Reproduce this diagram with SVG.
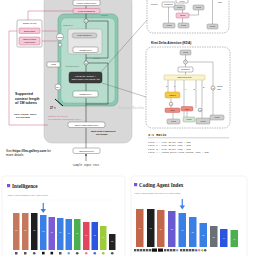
<svg xmlns="http://www.w3.org/2000/svg" width="256" height="256" viewBox="0 0 256 256">
<defs>
<style>
.t{font-family:"Liberation Sans",Arial,sans-serif;fill:#222}
.m{font-family:"Liberation Mono","DejaVu Sans Mono",monospace;fill:#333}
.s{font-family:"Liberation Serif","Times New Roman",serif;fill:#222;font-weight:bold}
.wb{fill:#fff;stroke:#555;stroke-width:0.4}
.pk{fill:#f7c8d8;stroke:#cf4f7a;stroke-width:0.4}
.gb{fill:#cfcfcf;stroke:#808080;stroke-width:0.4}
.ln{stroke:#222;stroke-width:0.5;fill:none}
.pl{stroke:#d05a80;stroke-width:0.5;fill:none}
.dl{stroke:#666;stroke-width:0.4;fill:none}
.dash{fill:#fff;stroke:#777;stroke-width:0.5;stroke-dasharray:1.5 1}
.card{fill:#fff;stroke:#e6e6e6;stroke-width:0.5}
.v{font-family:"Liberation Sans",Arial,sans-serif;fill:#fff;font-size:1.8px;text-anchor:middle}
</style>
<marker id="ah" viewBox="0 0 6 6" refX="5" refY="3" markerWidth="4" markerHeight="4" orient="auto"><path d="M0,0L6,3L0,6z" fill="#222"/></marker>
</defs>

<rect width="256" height="256" fill="#fff"/>

<!-- main gray panel -->
<g id="panel">
<rect x="44" y="-6" width="88" height="149" rx="8" fill="#d8d8d8" stroke="#bdbdbd" stroke-width="0.5"/>
<rect x="58" y="14" width="60" height="92" rx="6" fill="#8fc8b2" stroke="#5b9e86" stroke-width="0.5"/>
<rect x="61" y="18" width="54" height="85" rx="5" fill="#b7ddce" stroke="#6aa892" stroke-width="0.4"/>
<text class="t" x="118" y="109" font-size="3" fill="#c9c9c9" style="fill:#c8c8c8">Sebastian Raschka</text>
</g>

<!-- connectors -->
<g id="connectors">
<line class="ln" x1="86" y1="161" x2="86" y2="154" marker-end="url(#ah)"/>
<line class="ln" x1="86" y1="148" x2="86" y2="128"/>
<line class="ln" x1="86" y1="122" x2="86" y2="98"/>
<line class="ln" x1="86" y1="91" x2="86" y2="83.5"/>
<line class="ln" x1="86" y1="72" x2="86" y2="65"/>
<line class="ln" x1="86" y1="61" x2="86" y2="52.5"/>
<line class="ln" x1="86" y1="47" x2="86" y2="38"/>
<line class="ln" x1="86" y1="33" x2="86" y2="23"/>
<line class="ln" x1="86" y1="19" x2="86" y2="13.5"/>
<line class="ln" x1="86" y1="9" x2="86" y2="5.5"/>
<polyline class="ln" points="86,104 108,104 108,63 88,63"/>
<polyline class="ln" points="86,58 108,58 108,21 88,21"/>
<line class="dl" x1="101" y1="72" x2="147" y2="20"/>
<line class="dl" x1="102" y1="83" x2="146" y2="97"/>
<polyline class="pl" points="17,31 9,31 9,125 48,125"/>
<polyline class="pl" points="28,20 28,11 73,11"/>
<line class="pl" x1="42" y1="31" x2="57" y2="31"/>
<line class="pl" x1="42" y1="41" x2="57" y2="41"/>
<line stroke="#111" stroke-width="1" x1="55" y1="99" x2="63" y2="106"/>
</g>

<!-- top output nodes -->
<g id="n-linear-out"><rect class="wb" x="73" y="0" width="27" height="5.5" rx="1.5"/><text class="t" x="86.5" y="3.8" font-size="2.4" text-anchor="middle">Linear output layer</text></g>
<g id="n-final-norm"><rect class="pk" x="73" y="8.5" width="27" height="5" rx="1.5"/><text class="t" x="86.5" y="12" font-size="2.4" text-anchor="middle">Final RMSNorm</text></g>
<g id="n-add2"><circle cx="86" cy="21" r="2" fill="#fff" stroke="#222" stroke-width="0.4"/><text class="t" x="86" y="22.2" font-size="3" text-anchor="middle">+</text></g>
<text class="t" x="101" y="16" font-size="1.8" fill="#555" style="fill:#4d6f63">Residual</text>

<!-- MoE block -->
<g id="n-moe-block">
<text class="t" x="63" y="26" font-size="2.2" style="fill:#3f6e5e">MoE layer</text>
<rect x="68" y="29" width="34" height="25" rx="2" fill="#e6e6e6" stroke="#999" stroke-width="0.4"/>
<rect class="gb" x="72" y="33" width="25" height="5" rx="2.5"/><text class="t" x="84.5" y="36.3" font-size="2.2" text-anchor="middle">MoE (SwiGLU)</text>
<rect class="wb" x="73" y="47" width="25" height="5.5" rx="1.5"/><text class="t" x="85.5" y="50.6" font-size="2.2" text-anchor="middle">RMSNorm 2</text>
</g>

<!-- left shared box -->
<g id="n-shared">
<rect class="wb" x="17" y="20" width="25" height="27" rx="1.5"/>
<text class="t" x="29.5" y="24" font-size="2.3" text-anchor="middle">Single layers</text>
<rect class="pk" x="19" y="28" width="21" height="5.5" rx="1.2"/><text class="t" x="29.5" y="31.6" font-size="2.2" text-anchor="middle">Embedding</text>
<rect class="pk" x="19" y="37" width="21" height="8" rx="1.2"/><text class="t" x="29.5" y="40.4" font-size="2.2" text-anchor="middle">Shared input</text><text class="t" x="29.5" y="43.4" font-size="2.2" text-anchor="middle">embedding</text>
</g>

<g id="n-nope"><circle cx="60" cy="37" r="3.5" fill="#fff" stroke="#555" stroke-width="0.4"/><text class="t" x="60" y="37.8" font-size="2" text-anchor="middle">NoPE</text></g>
<g id="n-x1"><circle cx="60" cy="45" r="1.8" fill="#fff" stroke="#555" stroke-width="0.4"/><text class="t" x="60" y="46" font-size="2.5" text-anchor="middle">×</text></g>

<!-- attention block -->
<g id="n-add1"><circle cx="86" cy="63" r="2" fill="#fff" stroke="#222" stroke-width="0.4"/><text class="t" x="86" y="64.2" font-size="3" text-anchor="middle">+</text></g>
<text class="t" x="93" y="59" font-size="1.8" style="fill:#4d6f63">Residual</text>
<text class="t" x="65" y="67" font-size="2.2" style="fill:#3f6e5e">Attention layer</text>
<g id="n-attn"><rect x="69" y="72" width="33" height="11" rx="2" fill="#3b3b3b" stroke="#222" stroke-width="0.4"/><text class="t" x="85.5" y="76.5" font-size="2.2" text-anchor="middle" style="fill:#fff">Kimi Delta Attention +</text><text class="t" x="85.5" y="79.8" font-size="2.2" text-anchor="middle" style="fill:#fff">Gated Multi-Head Latent Attn</text></g>
<g id="n-norm1"><rect class="wb" x="73" y="91" width="25" height="6" rx="1.5"/><text class="t" x="85.5" y="94.8" font-size="2.2" text-anchor="middle">RMSNorm 1</text></g>
<g id="n-moe-label"><rect class="wb" x="47" y="62" width="13" height="5" rx="1"/><text class="t" x="53.5" y="65.4" font-size="2.2" text-anchor="middle">MoE</text></g>
<g id="n-mla"><circle cx="58" cy="87" r="3" fill="#fff" stroke="#555" stroke-width="0.4"/><text class="t" x="58" y="87.8" font-size="2" text-anchor="middle">MLA</text></g>
<text class="t" x="50" y="109" font-size="2.8" font-weight="bold">27 ×</text>

<!-- left texts -->
<text class="t" x="15" y="95" font-size="3.6" font-weight="bold">Supported</text>
<text class="t" x="15" y="99.5" font-size="3.6" font-weight="bold">context length</text>
<text class="t" x="15" y="104" font-size="3.6" font-weight="bold">of 1M tokens</text>
<text class="t" x="14" y="115" font-size="2.2" font-weight="bold">Layer 1 dense, layers</text>
<text class="t" x="16" y="118" font-size="2.2" font-weight="bold">2-27 use MoE</text>
<text class="t" x="48" y="117" font-size="2.2" style="fill:#d05a80">NoPE in MLA layers</text>
<text class="t" x="48" y="120" font-size="2.2" style="fill:#d05a80">(no positional embeddings in MLA)</text>

<g id="n-tokemb"><rect class="wb" x="68" y="122" width="37" height="5.5" rx="2"/><text class="t" x="86.5" y="125.6" font-size="2.3" text-anchor="middle">Token embedding layer</text></g>
<text class="t" x="91" y="131.5" font-size="2.3" font-weight="bold">Multi-head component</text>
<text class="t" x="96" y="134.5" font-size="2.3" font-weight="bold">not shown</text>
<g id="n-tokenized"><rect class="wb" x="73" y="148" width="27" height="5.5" rx="1.5"/><text class="t" x="86.5" y="151.6" font-size="2.3" text-anchor="middle">Tokenized text</text></g>
<text class="m" x="86" y="166" font-size="2.6" text-anchor="middle">Sample input text</text>
<text class="t" x="6" y="151.5" font-size="3.2">See <tspan font-weight="bold">https://llm-gallery.com</tspan> for</text>
<text class="t" x="6" y="156" font-size="3.2">more details</text>

<!-- MLA detail box -->
<g id="n-mla-detail">
<rect class="dash" x="147" y="-6" width="82" height="39" rx="6"/>
<text class="t" x="151" y="5" font-size="1.8">Queries</text>
<rect class="wb" x="162" y="2" width="13" height="5" rx="1.2"/><text class="t" x="168.5" y="5.2" font-size="1.8" text-anchor="middle">RMSNorm</text>
<rect class="wb" x="176" y="-1" width="12" height="4" rx="1.2"/><text class="t" x="182" y="1.8" font-size="1.8" text-anchor="middle">Linear</text>
<rect class="gb" x="174" y="5" width="11" height="5" rx="1.2"/><text class="t" x="179.5" y="8.3" font-size="1.8" text-anchor="middle">Linear</text>
<rect class="gb" x="193" y="5" width="11" height="5" rx="1.2"/><text class="t" x="198.5" y="8.3" font-size="1.8" text-anchor="middle">Linear</text>
<rect class="pk" x="176" y="13" width="13" height="5" rx="1.2"/><text class="t" x="182.5" y="16.3" font-size="1.8" text-anchor="middle">NoPE</text>
<rect class="gb" x="163" y="23" width="12" height="5" rx="1.2"/><text class="t" x="169" y="26.3" font-size="1.8" text-anchor="middle">Linear</text>
<rect class="gb" x="178" y="23" width="11" height="5" rx="1.2"/><text class="t" x="183.5" y="26.3" font-size="1.8" text-anchor="middle">Linear</text>
<rect class="gb" x="207" y="24" width="11" height="5" rx="1.2"/><text class="t" x="212.5" y="27.3" font-size="1.8" text-anchor="middle">Linear</text>
<line class="dl" x1="168.5" y1="7" x2="168.5" y2="23"/>
<line class="dl" x1="182.5" y1="10" x2="182.5" y2="13"/>
<line class="dl" x1="182.5" y1="18" x2="182.5" y2="23"/>
<line class="dl" x1="198.5" y1="10" x2="198.5" y2="15"/>
<line class="dl" x1="198.5" y1="15" x2="189" y2="15"/>
<line class="dl" x1="212.5" y1="0" x2="212.5" y2="24"/>
<text class="t" x="218" y="3" font-size="1.8">Gate</text>
</g>

<!-- KDA detail -->
<text class="t" x="151" y="44" font-size="3.2" font-weight="bold">Kimi Delta Attention (KDA)</text>
<g id="n-kda">
<rect class="dash" x="146" y="47" width="84" height="81" rx="6"/>
<line class="dl" x1="185.5" y1="55" x2="185.5" y2="60"/>
<line class="dl" x1="185.5" y1="64" x2="185.5" y2="67"/>
<line class="dl" x1="185.5" y1="72" x2="185.5" y2="75"/>
<polyline class="dl" points="213,86 213,62 187.5,62"/>
<line class="dl" x1="213" y1="90" x2="213" y2="115"/>
<line class="dl" x1="168" y1="80" x2="168" y2="92"/>
<line class="dl" x1="175" y1="80" x2="175" y2="92"/>
<line class="dl" x1="184" y1="80" x2="184" y2="117"/>
<line class="dl" x1="196" y1="80" x2="196" y2="108"/>
<line class="dl" x1="202" y1="80" x2="202" y2="118"/>
<line class="dl" x1="171" y1="98" x2="171" y2="108"/>
<line class="dl" x1="173" y1="112" x2="173" y2="119"/>
<line class="dl" x1="187" y1="111" x2="187" y2="117"/>
<rect class="gb" x="180" y="50" width="11" height="5" rx="1.2"/><text class="t" x="185.5" y="53.3" font-size="1.8" text-anchor="middle">Linear</text>
<circle cx="185.5" cy="62" r="2" fill="#fff" stroke="#333" stroke-width="0.4"/><text class="t" x="185.5" y="63.1" font-size="3" text-anchor="middle">×</text>
<rect class="wb" x="178" y="67" width="15" height="5" rx="1.2"/><text class="t" x="185.5" y="70.3" font-size="1.8" text-anchor="middle">RMSNorm</text>
<rect x="164" y="75" width="41" height="5" rx="0.8" fill="#fbf4c8" stroke="#c8b35a" stroke-width="0.4"/><text class="t" x="184.5" y="78.3" font-size="1.9" text-anchor="middle">Gated Delta Rule</text>
<circle cx="213" cy="88" r="2" fill="#fff" stroke="#333" stroke-width="0.4"/><text class="t" x="213" y="88.8" font-size="2" text-anchor="middle">σ</text>
<text class="t" x="217" y="87" font-size="1.8">Output</text><text class="t" x="217" y="89.5" font-size="1.8">Gate</text>
<text class="t" x="166" y="87" font-size="2.3">q</text><text class="t" x="174" y="87" font-size="2.3">k</text>
<text class="t" x="185" y="90" font-size="2.3">v</text><text class="t" x="193.5" y="90" font-size="2.3">α</text><text class="t" x="203" y="88" font-size="2.3">β</text>
<rect x="165" y="92" width="15" height="6" rx="1.5" fill="#f6c945" stroke="#c99a1c" stroke-width="0.4"/><text class="t" x="172.5" y="95.8" font-size="1.8" text-anchor="middle">L2Norm</text>
<circle cx="171" cy="104" r="1.8" fill="#fff" stroke="#333" stroke-width="0.4"/><text class="t" x="171" y="104.8" font-size="1.8" text-anchor="middle">ϕ</text>
<rect x="165" y="108" width="15" height="4.5" rx="1.2" fill="#ea8a80" stroke="#c0504d" stroke-width="0.4"/><text class="t" x="172.5" y="111.1" font-size="1.8" text-anchor="middle">Conv</text>
<rect x="181" y="106.5" width="12" height="4.5" rx="1.2" fill="#ea8a80" stroke="#c0504d" stroke-width="0.4"/><text class="t" x="187" y="109.6" font-size="1.8" text-anchor="middle">Conv</text>
<circle cx="200" cy="110" r="1.8" fill="#fff" stroke="#333" stroke-width="0.4"/><text class="t" x="200" y="110.8" font-size="1.8" text-anchor="middle">σ</text>
<rect class="gb" x="167" y="119" width="13" height="5" rx="1.2"/><text class="t" x="173.5" y="122.3" font-size="1.8" text-anchor="middle">Linear</text>
<rect x="183" y="117" width="12" height="5" rx="1.2" fill="#d3e6d3" stroke="#7a9a7a" stroke-width="0.4"/><text class="t" x="189" y="120.3" font-size="1.8" text-anchor="middle">Linear</text>
<rect class="gb" x="196" y="118" width="14" height="6" rx="1.2"/><text class="t" x="203" y="121.8" font-size="1.8" text-anchor="middle">Linear</text>
<rect class="gb" x="210" y="115" width="14" height="5" rx="1.2"/><text class="t" x="217" y="118.3" font-size="1.8" text-anchor="middle">Linear</text>
</g>

<!-- ratio -->
<text class="m" x="148" y="135.5" font-size="3.4" font-weight="bold">3:1 Ratio</text>
<line x1="148" y1="137.8" x2="229" y2="137.8" stroke="#888" stroke-width="0.4"/>
<text class="m" x="148" y="142.5" font-size="2.3">Layer 1  : Kimi Delta Attn + MoE</text>
<text class="m" x="148" y="146" font-size="2.3">Layer 2  : Kimi Delta Attn + MoE</text>
<text class="m" x="148" y="149.5" font-size="2.3">Layer 3  : Kimi Delta Attn + MoE</text>
<text class="m" x="148" y="153" font-size="2.3">Layer 4  : Gated Multi-Head Latent Attn + MoE</text>
<text class="m" x="148" y="156.5" font-size="2.3">...</text>

<!-- Intelligence chart -->
<g id="chart-intelligence">
<rect class="card" x="2" y="176" width="123" height="90" rx="3"/>
<rect x="7" y="184" width="3.2" height="3.2" fill="#7b4fe0"/>
<text class="s" x="12" y="187.5" font-size="5.2">Intelligence</text>
<text class="t" x="7" y="195.5" font-size="1.8" style="fill:#777">Artificial Analysis Intelligence Index; Higher is better</text>
<line x1="12" y1="200" x2="117" y2="200" stroke="#f0f0f0" stroke-width="0.3"/>
<rect x="13" y="213" width="6.5" height="37" fill="#c4785c"/>
<rect x="22" y="213" width="6.5" height="37" fill="#c4785c"/>
<rect x="31" y="213" width="6.5" height="37" fill="#1f1f1f"/>
<rect x="40" y="215" width="6.5" height="35" fill="#3a7fe6"/>
<rect x="48.5" y="217" width="6.5" height="33" fill="#7c5cd6"/>
<rect x="57" y="218" width="6.5" height="32" fill="#3a7fe6"/>
<rect x="65.5" y="219" width="6.5" height="31" fill="#3a7fe6"/>
<rect x="74" y="219" width="6.5" height="31" fill="#4caf50"/>
<rect x="83" y="222" width="6.5" height="28" fill="#e0475e"/>
<rect x="91.5" y="222" width="6.5" height="28" fill="#2b55e0"/>
<rect x="100" y="226" width="6.5" height="24" fill="#9ccc3c"/>
<rect x="109" y="234" width="6.5" height="16" fill="#222"/>
<text class="v" x="16.25" y="231">73</text><text class="v" x="25.25" y="231">73</text><text class="v" x="34.25" y="231">73</text><text class="v" x="43.25" y="232">72</text><text class="v" x="51.75" y="233">70</text><text class="v" x="60.25" y="233">70</text><text class="v" x="68.75" y="234">69</text><text class="v" x="77.25" y="234">69</text><text class="v" x="86.25" y="236">67</text><text class="v" x="94.75" y="236">67</text><text class="v" x="103.25" y="238">64</text><text class="v" x="112.25" y="242">57</text>
<g fill="#555">
<rect x="15" y="252" width="2.5" height="2.5"/><rect x="24" y="252" width="2.5" height="2.5"/><circle cx="34.25" cy="253.2" r="1.3"/><rect x="42" y="251.8" width="2.6" height="2.6" fill="#111"/><rect x="50.5" y="251.8" width="2.6" height="2.6" fill="#111"/><rect x="59" y="252" width="2.5" height="2.5"/><circle cx="68.75" cy="253.2" r="1.3" fill="#8aa0d8"/><circle cx="77.25" cy="253.2" r="1.3"/><circle cx="86.25" cy="253.2" r="1.3" fill="#e08a9a"/><circle cx="94.75" cy="253.2" r="1.3" fill="#4a6ad8"/><circle cx="103.25" cy="253.2" r="1.3" fill="#9ccc3c"/><circle cx="112.25" cy="253.2" r="1.3"/>
</g>
<line x1="43.25" y1="203" x2="43.25" y2="209.5" stroke="#3a7fe6" stroke-width="1.2"/>
<polygon points="40.5,209 46,209 43.25,213" fill="#3a7fe6"/>
</g>

<!-- Coding chart -->
<g id="chart-coding">
<rect class="card" x="131" y="176" width="116" height="90" rx="3"/>
<rect x="134" y="183" width="3.2" height="3.2" fill="#7b4fe0"/>
<text class="s" x="139" y="186.5" font-size="5.2">Coding Agent Index</text>
<text class="t" x="134" y="194" font-size="1.8" style="fill:#777">Artificial Analysis Coding Agent Index v1.0; Higher is better</text>
<rect x="136" y="209" width="7.5" height="38" fill="#c4664a"/>
<rect x="147" y="209" width="7.5" height="38" fill="#1f1f1f"/>
<rect x="157" y="210" width="7.5" height="37" fill="#c4664a"/>
<rect x="168" y="211" width="7.5" height="36" fill="#6a5ad0"/>
<rect x="178.5" y="213" width="7.5" height="34" fill="#3a7fe6"/>
<rect x="189" y="217" width="7.5" height="30" fill="#3a7fe6"/>
<rect x="199.5" y="223" width="7.5" height="24" fill="#3a7fe6"/>
<rect x="210" y="226" width="7.5" height="21" fill="#6b6f78"/>
<rect x="220" y="229" width="7.5" height="18" fill="#2b55e0"/>
<rect x="230.5" y="230" width="7.5" height="17" fill="#4caf50"/>
<text class="v" x="139.75" y="229">67</text><text class="v" x="150.75" y="229">67</text><text class="v" x="160.75" y="230">66</text><text class="v" x="171.75" y="230">65</text><text class="v" x="182.25" y="231">63</text><text class="v" x="192.75" y="233">59</text><text class="v" x="203.25" y="236">53</text><text class="v" x="213.75" y="238">50</text><text class="v" x="223.75" y="239">47</text><text class="v" x="234.25" y="240">46</text>
<g fill="#555">
<rect x="134" y="249" width="2.4" height="2.4"/><rect x="137" y="249" width="2.4" height="2.4"/><rect x="140" y="249" width="2.4" height="2.4"/><rect x="143" y="249" width="2.4" height="2.4"/><rect x="146" y="249" width="2.4" height="2.4"/><rect x="149" y="249" width="2.4" height="2.4"/><rect x="152" y="248.5" width="5" height="3.2" fill="#111"/><rect x="158" y="248.5" width="5" height="3.2" fill="#111"/><rect x="164" y="249" width="2.4" height="2.4"/><rect x="167" y="249" width="2.4" height="2.4"/><rect x="170" y="249" width="2.4" height="2.4"/><rect x="173" y="249" width="2.4" height="2.4"/><circle cx="177.2" cy="250.2" r="1.2" fill="#8aa0d8"/><rect x="180" y="249" width="2.4" height="2.4"/><rect x="183" y="249" width="2.4" height="2.4"/><rect x="186" y="249" width="2.4" height="2.4"/><rect x="189" y="249" width="2.4" height="2.4"/><rect x="192" y="249" width="2.4" height="2.4"/><circle cx="196.2" cy="250.2" r="1.2" fill="#4a6ad8"/><circle cx="199.2" cy="250.2" r="1.2" fill="#e08a9a"/><circle cx="202.2" cy="250.2" r="1.2" fill="#9ccc3c"/><circle cx="205.2" cy="250.2" r="1.2"/>
</g>
<line x1="182.25" y1="199" x2="182.25" y2="206" stroke="#3a7fe6" stroke-width="1.2"/>
<polygon points="179.5,205.5 185,205.5 182.25,209.5" fill="#3a7fe6"/>
</g>
</svg>
